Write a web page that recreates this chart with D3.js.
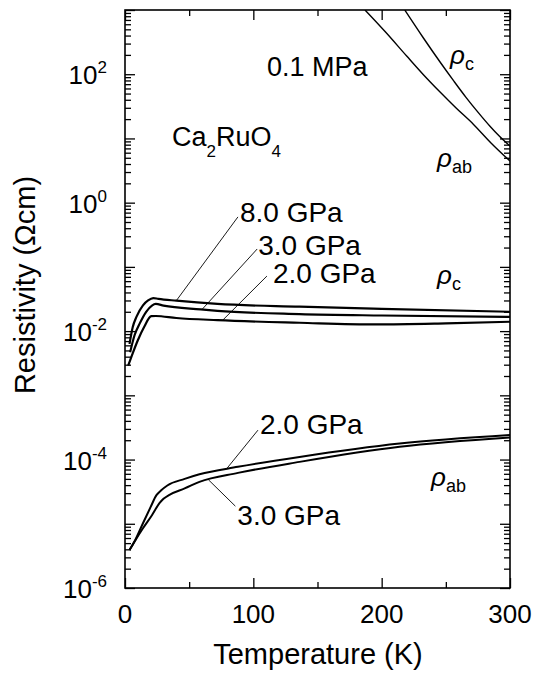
<!DOCTYPE html>
<html>
<head>
<meta charset="utf-8">
<script src="https://cdn.jsdelivr.net/npm/d3@7"></script>
<style>
  body { margin: 0; background: #fff; }
  svg text { font-family: "Liberation Sans", Arial, sans-serif; fill: #000; }
</style>
</head>
<body>
<svg id="chart" width="541" height="673"></svg>
<script>
// axis ticks
const tempTicks = [0, 100, 200, 300];
const tempMinor = [50, 150, 250];
const rhoLabelExp = [-6, -4, -2, 0, 2];

// 0.1 MPa
const ambC_T = [218, 232, 245.5, 256, 265.7, 275, 284.4, 292, 300];
const ambC_rho = [1000, 380, 155, 79.4, 43.7, 25.7, 15.5, 10.7, 7.6];
const ambAB_T = [187, 203, 219.5, 232, 245.5, 258, 271.4, 285, 300];
const ambAB_rho = [1000, 454, 192, 101, 52.8, 29.8, 16.7, 8.6, 4.45];

// rho_c under pressure
const c8_T = [3.5, 6, 9, 14, 18, 22, 26, 40, 72, 136, 200, 300];
const c8_rho = [0.0063, 0.0115, 0.0168, 0.0252, 0.030, 0.0327, 0.0318, 0.0298, 0.0265, 0.0240, 0.0222, 0.0200];
const c3_T = [4, 7.5, 11.5, 16.5, 21, 24, 30, 59, 72, 136, 200, 300];
const c3_rho = [0.0047, 0.0087, 0.0132, 0.020, 0.025, 0.0265, 0.025, 0.0218, 0.0207, 0.0184, 0.0175, 0.0167];
const c2_T = [2.5, 6, 10, 15, 20.5, 24, 40, 72, 136, 196, 250, 300];
const c2_rho = [0.0029, 0.0045, 0.0072, 0.0117, 0.0171, 0.0172, 0.0160, 0.0148, 0.0135, 0.0127, 0.0132, 0.0140];

// rho_ab under pressure
const ab2_T = [3.5, 8, 14, 20, 24.5, 28, 33, 46.5, 58, 88, 136, 214, 300];
const ab2_rho = [3.9e-6, 5.6e-6, 1.02e-5, 1.83e-5, 2.79e-5, 3.3e-5, 3.95e-5, 5.0e-5, 5.9e-5, 7.7e-5, 1.1e-4, 1.78e-4, 2.42e-4];
const ab3_T = [3.5, 8, 14, 21, 27, 30, 35, 46.5, 58, 88, 136, 214, 300];
const ab3_rho = [3.9e-6, 5.5e-6, 8.5e-6, 1.36e-5, 2.11e-5, 2.45e-5, 2.85e-5, 3.55e-5, 4.5e-5, 6.2e-5, 9.2e-5, 1.58e-4, 2.2e-4];

const svg = d3.select("#chart");
const x = d3.scaleLinear().domain([0, 300]).range([125, 510]);
const y = d3.scaleLog().domain([1e-6, 1e3]).range([588, 10]);

const decades = d3.range(-6, 4).map(e => Math.pow(10, e));
const minors = [];
d3.range(-6, 3).forEach(e => {
  for (let m = 2; m <= 9; m++) minors.push(m * Math.pow(10, e));
});

svg.append("defs").append("clipPath").attr("id", "plot")
  .append("rect").attr("x", 125).attr("y", 10).attr("width", 385).attr("height", 578);

function ticks(axisFn, scale, values, size, transform) {
  svg.append("g").attr("transform", transform)
    .call(axisFn(scale).tickValues(values).tickSize(size).tickFormat(""))
    .call(g => g.select(".domain").remove())
    .selectAll("line").attr("stroke", "#000").attr("stroke-width", 1.3);
}
ticks(d3.axisLeft, y, decades, -10, "translate(125,0)");
ticks(d3.axisLeft, y, minors, -6, "translate(125,0)");
ticks(d3.axisRight, y, decades, -10, "translate(510,0)");
ticks(d3.axisRight, y, minors, -6, "translate(510,0)");
ticks(d3.axisBottom, x, tempTicks, -10, "translate(0,588)");
ticks(d3.axisBottom, x, tempMinor, -6, "translate(0,588)");
ticks(d3.axisTop, x, tempTicks, -10, "translate(0,10)");
ticks(d3.axisTop, x, tempMinor, -6, "translate(0,10)");

svg.append("rect").attr("x", 125).attr("y", 10).attr("width", 385).attr("height", 578)
  .attr("fill", "none").attr("stroke", "#000").attr("stroke-width", 1.6);

// tick labels
svg.selectAll(".xl").data(tempTicks).enter().append("text")
  .attr("x", d => x(d)).attr("y", 623).attr("text-anchor", "middle")
  .attr("font-size", 26).text(d => d);

const yl = svg.selectAll(".yl").data(rhoLabelExp).enter().append("text")
  .attr("x", 107).attr("y", d => y(Math.pow(10, d)) + 10).attr("text-anchor", "end")
  .attr("font-size", 26);
yl.append("tspan").text("10");
yl.append("tspan").attr("dy", -11).attr("font-size", 17).text(d => d);

svg.append("text").attr("x", 318).attr("y", 664).attr("text-anchor", "middle")
  .attr("font-size", 29).text("Temperature (K)");
svg.append("text").attr("transform", "translate(35,285) rotate(-90)")
  .attr("text-anchor", "middle").attr("font-size", 29).text("Resistivity (\u03A9cm)");

// curves
const line = d3.line().x(d => x(d[0])).y(d => y(d[1])).curve(d3.curveMonotoneX);
const curves = svg.append("g").attr("clip-path", "url(#plot)").attr("fill", "none").attr("stroke", "#000");
[[ambC_T, ambC_rho, 1.4], [ambAB_T, ambAB_rho, 1.4],
 [c8_T, c8_rho, 2.2], [c3_T, c3_rho, 2.2], [c2_T, c2_rho, 2.2],
 [ab2_T, ab2_rho, 2], [ab3_T, ab3_rho, 2]].forEach(([t, r, w]) => {
  curves.append("path").attr("d", line(d3.zip(t, r))).attr("stroke-width", w);
});

// leader lines and pressure labels
function valueAt(t, r, v) {
  return Math.pow(10, d3.scaleLinear().domain(t).range(r.map(Math.log10))(v));
}
const leaders = [
  { text: "8.0 GPa", t: c8_T, r: c8_rho, at: 40, from: [88, 0.6], dx: 2, dy: 5 },
  { text: "3.0 GPa", t: c3_T, r: c3_rho, at: 60, from: [103, 0.19], dx: 1, dy: 6 },
  { text: "2.0 GPa", t: c2_T, r: c2_rho, at: 76, from: [110.6, 0.072], dx: 6, dy: 7 },
  { text: "2.0 GPa", t: ab2_T, r: ab2_rho, at: 79, from: [103.6, 2.87e-4], dx: 2, dy: 4 },
  { text: "3.0 GPa", t: ab3_T, r: ab3_rho, at: 65, from: [86, 1.88e-5], dx: 2, dy: 19 }
];
leaders.forEach(l => {
  const x0 = x(l.from[0]), y0 = y(l.from[1]);
  svg.append("line").attr("x1", x0).attr("y1", y0)
    .attr("x2", x(l.at)).attr("y2", y(valueAt(l.t, l.r, l.at)))
    .attr("stroke", "#000").attr("stroke-width", 0.9);
  svg.append("text").attr("x", x0 + l.dx).attr("y", y0 + l.dy)
    .attr("font-size", 28).text(l.text);
});

svg.append("text").attr("x", 267).attr("y", 76).attr("font-size", 27).text("0.1 MPa");

const ca = svg.append("text").attr("x", 172).attr("y", 146).attr("font-size", 27);
ca.append("tspan").text("Ca");
ca.append("tspan").attr("dy", 11).attr("font-size", 17).text("2");
ca.append("tspan").attr("dy", -11).text("RuO");
ca.append("tspan").attr("dy", 11).attr("font-size", 17).text("4");

function rho(px, py, sub) {
  const t = svg.append("text").attr("x", px).attr("y", py).attr("font-size", 26);
  t.append("tspan").attr("font-style", "italic").text("\u03C1");
  t.append("tspan").attr("dy", 6).attr("font-size", 18).text(sub);
}
rho(450, 64, "c");
rho(437, 167, "ab");
rho(437, 284, "c");
rho(431, 486, "ab");
</script>
</body>
</html>
